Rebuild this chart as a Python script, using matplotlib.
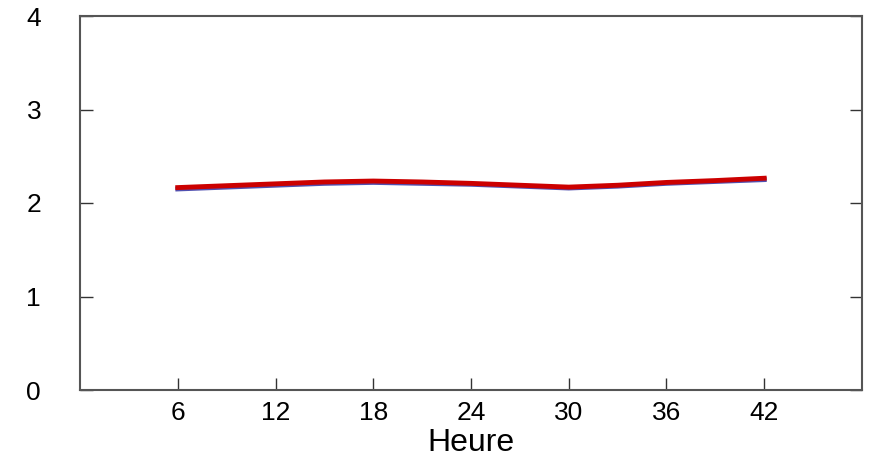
import matplotlib
matplotlib.use("Agg")
import matplotlib.pyplot as plt

plt.rcParams['font.family'] = ['Liberation Sans', 'DejaVu Sans']

# données
heures = [6, 9, 12, 15, 18, 21, 24, 27, 30, 33, 36, 39, 42]
serie_bleue = [2.15, 2.17, 2.19, 2.21, 2.22, 2.21, 2.20, 2.18, 2.16, 2.18, 2.21, 2.23, 2.25]
serie_rouge = [2.165, 2.185, 2.205, 2.225, 2.235, 2.225, 2.21, 2.19, 2.17, 2.19, 2.22, 2.24, 2.265]
xticks = [6, 12, 18, 24, 30, 36, 42]
yticks = [0, 1, 2, 3, 4]

fig = plt.figure(figsize=(8.69, 4.59), dpi=100)
ax = fig.add_axes([80 / 869, 69 / 459, 782 / 869, 374 / 459])

ax.plot(heures, serie_bleue, color='#5050b0', lw=3.5)
ax.plot(heures, serie_rouge, color='#cc0000', lw=3.5)

ax.set_xlim(0, 48)
ax.set_ylim(0, 4)
ax.set_xticks(xticks)
ax.set_yticks(yticks)
ax.tick_params(direction='in', length=9, width=1, color='#333333',
               labelsize=19, right=True)
ax.tick_params(axis='y', pad=28)
ax.tick_params(axis='x', pad=8)
for s in ax.spines.values():
    s.set_color('#555555')
    s.set_linewidth(1.5)

# libellé de l'axe x placé à la main sous les graduations
fig.text(471 / 869, 8 / 459, 'Heure', fontsize=23, ha='center', va='baseline')

fig.savefig('out.png', dpi=100)
